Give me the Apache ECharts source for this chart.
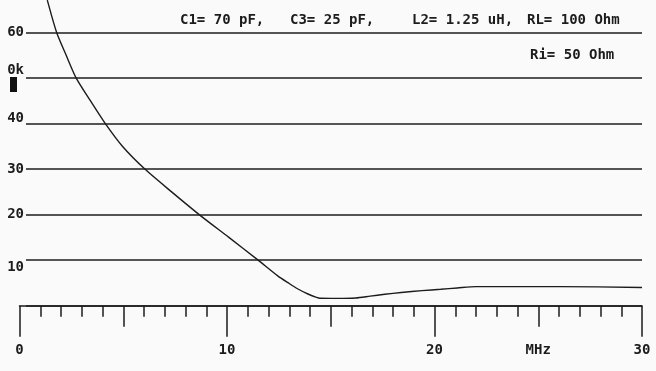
<!DOCTYPE html>
<html>
<head>
<meta charset="utf-8">
<script src="https://cdn.jsdelivr.net/npm/echarts@6/dist/echarts.min.js"></script>
<style>
html,body{margin:0;padding:0;background:#fafafa;}
#chart{width:656px;height:371px;}
</style>
</head>
<body>
<div id="chart"></div>
<script>
// Frequency (MHz) and attenuation values
const freqMHz = [1.34, 1.79, 2.24, 2.72, 3.39, 4.12, 4.98, 6.04, 7.33, 8.69, 10.09, 11.5, 12.46, 12.94, 13.42, 13.9, 14.31, 14.47, 15.3, 16.2, 16.9, 17.6, 18.4, 19.4, 20.3, 21.1, 22.0, 26.0, 30.0];
const attenuation = [67.1, 60.0, 55.1, 50.1, 45.2, 40.1, 34.9, 30.0, 25.0, 19.9, 15.0, 10.0, 6.5, 5.05, 3.67, 2.57, 1.84, 1.63, 1.6, 1.7, 2.1, 2.5, 2.9, 3.3, 3.6, 3.9, 4.2, 4.2, 4.0];
const xTickLabels = {0: '0', 10: '10', 20: '20', 25: 'MHz', 30: '30'};
const yTickLabels = {10: '10', 20: '20', 30: '30', 40: '40', 50: '0k', 60: '60'};
const headerRow1 = ['C1= 70 pF,', 'C3= 25 pF,', 'L2= 1.25 uH,', 'RL= 100 Ohm'];
const headerRow2 = ['Ri= 50 Ohm'];

const FONT = '"DejaVu Sans Mono", "Liberation Mono", monospace';
const INK = '#1c1c1c';
const Y_MAX = 67.14;

const chart = echarts.init(document.getElementById('chart'), null, {renderer: 'canvas'});
const seriesData = freqMHz.map((f, i) => [f, attenuation[i]]);

const row1X = [180, 290, 412, 527];
const graphics = headerRow1.map((t, i) => ({
  type: 'text', left: row1X[i], top: 13,
  style: {text: t, font: 'bold 14px ' + FONT, fill: INK}
}));
graphics.push({type: 'text', left: 530, top: 48, style: {text: headerRow2[0], font: 'bold 14px ' + FONT, fill: INK}});
graphics.push({type: 'rect', shape: {x: 10, y: 77, width: 7, height: 15}, style: {fill: '#111'}});

const labelStyle = {fontFamily: FONT, fontSize: 14, fontWeight: 'bold', color: INK};

chart.setOption({
  backgroundColor: '#fafafa',
  animation: false,
  grid: [
    {left: 19.5, right: 14, top: 0, bottom: 65.3},
    {left: 26, right: 14, top: 0, bottom: 65.3}
  ],
  xAxis: [
    { // main axis with medium ticks and minor ticks
      type: 'value', gridIndex: 0, min: 0, max: 30, interval: 5, position: 'bottom',
      axisLine: {show: true, lineStyle: {color: INK, width: 1.5}},
      axisTick: {show: true, length: 21, lineStyle: {color: INK, width: 1.5}},
      minorTick: {show: true, splitNumber: 5, length: 11, lineStyle: {color: INK, width: 1.5}},
      axisLabel: {show: false},
      splitLine: {show: false}
    },
    { // long ticks and labels
      type: 'value', gridIndex: 0, min: 0, max: 30, interval: 5, position: 'bottom',
      axisLine: {show: false},
      axisTick: {show: true, length: 31, interval: 0, lineStyle: {color: INK, width: 1.5},
        customValues: [0, 10, 20, 30]},
      axisLabel: Object.assign({
        show: true, margin: 38,
        customValues: [0, 10, 20, 25, 30],
        formatter: v => xTickLabels[v] !== undefined ? xTickLabels[v] : ''
      }, labelStyle),
      splitLine: {show: false}
    },
    {type: 'value', gridIndex: 1, min: 0, max: 30, show: false}
  ],
  yAxis: [
    {type: 'value', gridIndex: 0, min: 0, max: Y_MAX, show: false},
    {
      type: 'value', gridIndex: 1, min: 0, max: Y_MAX, interval: 10,
      axisLine: {show: false}, axisTick: {show: false},
      splitLine: {show: true, showMaxLine: false, lineStyle: {color: INK, width: 1.6}},
      axisLabel: Object.assign({
        margin: 2,
        showMaxLabel: false,
        formatter: v => {
          const t = yTickLabels[v];
          if (t === undefined) return '';
          if (v === 50) return '{up8|' + t + '}';
          if (v === 40) return '{up5|' + t + '}';
          if (v === 10) return '{dn7|' + t + '}';
          return t;
        },
        rich: {
          up8: Object.assign({padding: [0, 0, 16, 0]}, labelStyle),
          up5: Object.assign({padding: [0, 0, 10, 0]}, labelStyle),
          dn7: Object.assign({padding: [14, 0, 0, 0]}, labelStyle)
        }
      }, labelStyle)
    }
  ],
  graphic: graphics,
  series: [{
    type: 'line', xAxisIndex: 0, yAxisIndex: 0,
    data: seriesData, showSymbol: false,
    smooth: 0.25,
    lineStyle: {color: INK, width: 1.4},
    clip: true
  }]
});
</script>
</body>
</html>
